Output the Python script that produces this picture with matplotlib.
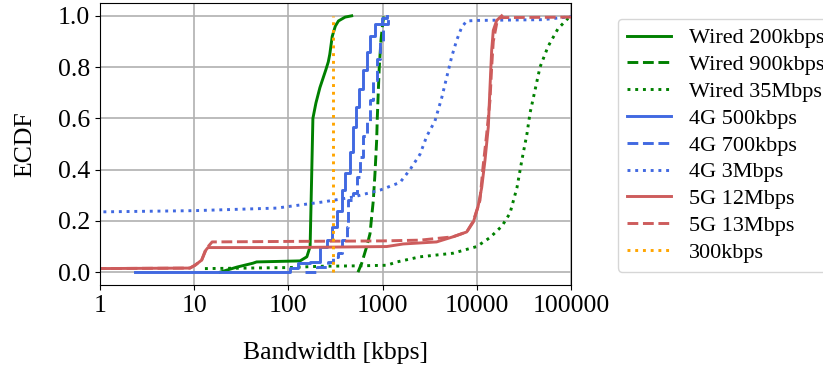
import matplotlib
matplotlib.use("Agg")
import matplotlib.pyplot as plt

plt.rcParams['font.family'] = ['Liberation Serif', 'DejaVu Serif']

# Bandwidth samples (kbps) and ECDF levels per trace
wired200_x = [18.8, 28.5, 42, 46, 133, 157, 170, 176, 182, 196, 216, 250, 265, 275, 292, 315, 340, 400, 470]
wired200_y = [0.0, 0.02, 0.035, 0.04, 0.044, 0.06, 0.1, 0.35, 0.6, 0.66, 0.72, 0.79, 0.82, 0.85, 0.92, 0.96, 0.98, 0.995, 1.0]

wired900_x = [548, 600, 678, 735, 765, 797, 830, 865, 878, 899, 922, 961, 1002, 1035]
wired900_y = [0.0, 0.035, 0.1, 0.15, 0.215, 0.28, 0.385, 0.515, 0.6, 0.70, 0.80, 0.905, 0.97, 1.0]

wired35m_x = [13, 100, 216, 600, 1110, 1420, 2500, 5600, 10000, 13800, 18500, 22500, 26700, 30200,
              34100, 36700, 41500, 46900, 57000, 72800, 93000, 110000]
wired35m_y = [0.014, 0.018, 0.023, 0.025, 0.027, 0.04, 0.06, 0.074, 0.1, 0.135, 0.18, 0.23, 0.33, 0.44,
              0.54, 0.62, 0.71, 0.80, 0.88, 0.95, 0.99, 1.0]

g4_500_x = [2.35, 104, 126, 170, 216, 257, 290, 328, 368, 399, 451, 485, 522, 562, 620, 678, 735, 830, 977, 1106]
g4_500_y = [0.0, 0.015, 0.035, 0.04, 0.1, 0.125, 0.175, 0.24, 0.32, 0.385, 0.47, 0.565, 0.645, 0.715, 0.79,
            0.86, 0.92, 0.97, 0.99, 1.0]

g4_700_x = [150, 200, 263, 297, 336, 368, 416, 430, 485, 530, 575, 620, 678, 735, 791, 865, 938, 1009, 1140]
g4_700_y = [0.0, 0.02, 0.04, 0.06, 0.075, 0.125, 0.175, 0.28, 0.31, 0.37, 0.45, 0.53, 0.59, 0.67, 0.75,
            0.83, 0.90, 0.97, 1.0]

g4_3m_x = [0.9, 10, 75, 233, 485, 938, 1531, 1954, 2496, 2940, 3597, 4240, 4790, 5410, 6120, 6920, 7820,
           9980, 50000, 90000, 110000]
g4_3m_y = [0.235, 0.24, 0.25, 0.274, 0.293, 0.32, 0.35, 0.40, 0.46, 0.53, 0.59, 0.68, 0.76, 0.84, 0.905,
           0.956, 0.98, 0.982, 0.985, 0.995, 1.0]

g5_12m_x = [0.9, 9.0, 10.2, 12, 13.3, 14.0, 100, 1106, 1648, 3740, 5590, 7820, 9200, 10300, 11270, 12220,
            13250, 13800, 14380, 14960, 16260, 18370]
g5_12m_y = [0.014, 0.016, 0.027, 0.047, 0.086, 0.096, 0.096, 0.1, 0.11, 0.118, 0.138, 0.157, 0.196, 0.255,
            0.33, 0.437, 0.567, 0.72, 0.865, 0.943, 0.982, 1.0]

g5_13m_x = [0.9, 9.0, 10.2, 12, 13.3, 15.5, 100, 1000, 2500, 5590, 7820, 9200, 10800, 11640, 12740, 13800,
            14380, 14960, 16260, 17630, 110000]
g5_13m_y = [0.014, 0.016, 0.027, 0.047, 0.09, 0.118, 0.12, 0.122, 0.125, 0.138, 0.157, 0.2, 0.28, 0.41,
            0.54, 0.67, 0.8, 0.9, 0.97, 0.993, 0.995]

cap300_x = [300, 300]
cap300_y = [0.0, 1.0]

xtick_vals = [1, 10, 100, 1000, 10000, 100000]
xtick_labels = ["1", "10", "100", "1000", "10000", "100000"]
ytick_vals = [0.0, 0.2, 0.4, 0.6, 0.8, 1.0]

fig = plt.figure(figsize=(8.23, 3.67), dpi=100)
ax = fig.add_axes([100 / 823, 1 - 285 / 367, 471 / 823, 282 / 367])

lw = 2.1
ax.plot(wired200_x, wired200_y, color='green', ls='-', lw=lw, label='Wired 200kbps')
ax.plot(wired900_x, wired900_y, color='green', ls='--', lw=lw, label='Wired 900kbps')
ax.plot(wired35m_x, wired35m_y, color='green', ls=':', lw=lw, label='Wired 35Mbps')
ax.plot(g4_500_x, g4_500_y, color='royalblue', ls='-', lw=lw, drawstyle='steps-post', label='4G 500kbps')
ax.plot(g4_700_x, g4_700_y, color='royalblue', ls='--', lw=lw, drawstyle='steps-post', label='4G 700kbps')
ax.plot(g4_3m_x, g4_3m_y, color='royalblue', ls=':', lw=lw, label='4G 3Mbps')
ax.plot(g5_12m_x, g5_12m_y, color='indianred', ls='-', lw=lw, label='5G 12Mbps')
ax.plot(g5_13m_x, g5_13m_y, color='indianred', ls='--', lw=lw, label='5G 13Mbps')
ax.plot(cap300_x, cap300_y, color='orange', ls=':', lw=lw, label='300kbps')

ax.set_xscale('log')
ax.set_xlim(1, 100000)
ax.set_ylim(-0.05, 1.05)
ax.set_xticks(xtick_vals)
ax.set_xticklabels(xtick_labels)
ax.xaxis.set_minor_locator(matplotlib.ticker.NullLocator())
ax.set_yticks(ytick_vals)
ax.set_yticklabels([f"{v:.1f}" for v in ytick_vals])
ax.tick_params(labelsize=18.5)
ax.grid(True, color='#b0b0b0', lw=1.2)
ax.set_axisbelow(True)

ax.set_xlabel('Bandwidth [kbps]', fontsize=18.5, labelpad=18)
ax.set_ylabel('ECDF', fontsize=18.5, labelpad=16)

fig.legend(loc='upper left', bbox_to_anchor=(618 / 823, 1 - 19 / 367), borderaxespad=0,
           fontsize=16, labelspacing=0.28)

fig.savefig('out.png', dpi=100)
